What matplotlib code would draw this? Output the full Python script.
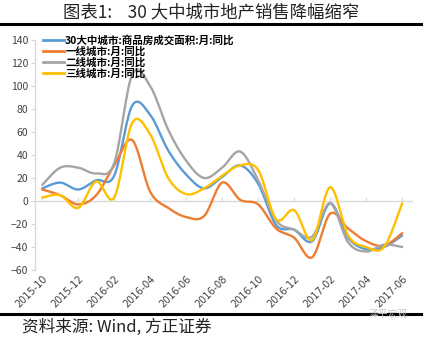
import numpy as np
import matplotlib
matplotlib.use("Agg")
import matplotlib.pyplot as plt
from matplotlib.lines import Line2D

plt.rcParams["font.family"] = ["Noto Sans CJK SC", "DejaVu Sans"]

# monthly, 2015-10 .. 2017-06
months = ["2015-10", "2015-11", "2015-12", "2016-01", "2016-02", "2016-03",
          "2016-04", "2016-05", "2016-06", "2016-07", "2016-08", "2016-09",
          "2016-10", "2016-11", "2016-12", "2017-01", "2017-02", "2017-03",
          "2017-04", "2017-05", "2017-06"]

city30 = [11, 16, 10, 18, 22, 83, 75, 44, 23, 11, 21, 31,
          15, -21, -25, -35, -2, -32, -42, -40, -30]
tier1 = [10, 5, -3, 5, 31, 53, 8, -6, -14, -13, 16, 1,
         -3, -24, -32, -49, -11, -24, -35, -39, -28]
tier2 = [14, 29, 29, 24, 33, 110, 100, 62, 35, 20, 29, 43,
         18, -17, -25, -31, -2, -36, -44, -38, -40]
tier3 = [3, 5, -6, 17, 3, 68, 58, 20, 6, 11, 22, 31,
         27, -16, -8, -34, 12, -30, -40, -40, -2]

series_names = ["30大中城市:商品房成交面积:月:同比", "一线城市:月:同比",
                "二线城市:月:同比", "三线城市:月:同比"]
series_colors = ["#5B9BD5", "#ED7D31", "#A5A5A5", "#FFC000"]


def smooth(y, n=30):
    # Excel-style smoothed line: cubic Bezier between points
    y = np.asarray(y, float)
    x = np.arange(len(y), dtype=float)
    px = np.concatenate([[x[0]], x, [x[-1]]])
    py = np.concatenate([[y[0]], y, [y[-1]]])
    t = np.linspace(0, 1, n)[:, None]
    xs, ys = [], []
    for i in range(len(y) - 1):
        p0 = np.array([px[i + 1], py[i + 1]])
        p3 = np.array([px[i + 2], py[i + 2]])
        c1 = p0 + (p3 - np.array([px[i], py[i]])) / 6
        c2 = p3 - (np.array([px[i + 3], py[i + 3]]) - p0) / 6
        b = ((1 - t) ** 3) * p0 + 3 * ((1 - t) ** 2) * t * c1 \
            + 3 * (1 - t) * t ** 2 * c2 + t ** 3 * p3
        xs.append(b[:, 0])
        ys.append(b[:, 1])
    return np.concatenate(xs), np.concatenate(ys)


fig = plt.figure(figsize=(4.27, 3.37), dpi=100)
ax = fig.add_axes([0.082, 0.199, 0.883, 0.682])

order = [2, 0, 1, 3]
for k in order:
    data = [city30, tier1, tier2, tier3][k]
    sx, sy = smooth(data)
    ax.plot(sx, sy, color=series_colors[k], lw=1.7, solid_capstyle="round",
            zorder=3 + k)

ax.set_xlim(-0.4, 20.55)
ax.set_ylim(-60, 140)
ax.set_yticks(range(-60, 141, 20))
ax.tick_params(axis="y", length=3, color="#D9D9D9", labelsize=7.5,
               labelcolor="#404040", pad=2)
ax.set_xticks(range(0, len(months), 2))
ax.set_xticklabels(months[::2], rotation=45, ha="right", va="top",
                   rotation_mode="anchor", fontsize=7, color="#404040",
                   family="DejaVu Sans")
ax.tick_params(axis="x", length=0, pad=3)
for s in ["top", "right", "bottom"]:
    ax.spines[s].set_visible(False)
ax.spines["left"].set_color("#D9D9D9")
ax.spines["left"].set_linewidth(1.0)

zero = ax.secondary_xaxis(0.3)
zero.set_xticks(range(0, len(months), 2))
zero.set_xticklabels([])
zero.tick_params(length=3, direction="in", color="#D9D9D9")
zero.spines["bottom"].set_color("#D9D9D9")
zero.spines["bottom"].set_linewidth(1.0)

handles = [Line2D([], [], color=c, lw=2) for c in series_colors]
ax.legend(handles, series_names, loc="upper left", bbox_to_anchor=(0.01, 1.04),
          frameon=False, handlelength=2.0, handletextpad=0.1,
          labelspacing=0.05, borderaxespad=0,
          prop={"size": 7.6, "weight": "bold"})

fig.text(0.495, 0.963, "图表1:    30 大中城市地产销售降幅缩窄", ha="center",
         va="center", fontsize=12.5, color="#222222")
fig.add_artist(Line2D([0.0, 0.985], [0.929, 0.929], color="black", lw=2.2))
fig.add_artist(Line2D([0.0, 0.985], [0.068, 0.068], color="black", lw=2.2))
fig.text(0.052, 0.028, "资料来源: Wind, 方正证券", ha="left", va="center",
         fontsize=12, style="italic", color="#222222")
fig.text(0.955, 0.07, "泽平宏观", ha="right", va="center", fontsize=7,
         color="#C8C8C8")

fig.savefig("out.png", dpi=100)
